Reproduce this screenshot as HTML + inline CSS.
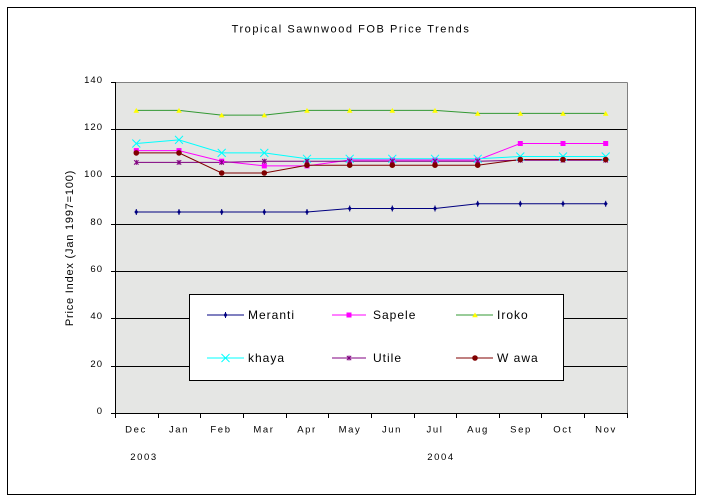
<!DOCTYPE html>
<html>
<head>
<meta charset="utf-8">
<style>
html,body{margin:0;padding:0;background:#fff;}
svg{display:block;}
text{font-family:"Liberation Sans",Arial,sans-serif;fill:#000;}
</style>
</head>
<body>
<svg width="702" height="502" viewBox="0 0 702 502" xmlns="http://www.w3.org/2000/svg">
<defs>
<g id="mMer"><polygon points="0,-2.5 2,0 0,2.5 -2,0" fill="#000080"/><line x1="0" y1="-3" x2="0" y2="3" stroke="#000080" stroke-width="1"/></g>
<g id="mSap"><rect x="-2.5" y="-2.5" width="5" height="5" fill="#ff00ff"/></g>
<g id="mIro"><polygon points="0,-2.5 2.8,2.3 -2.8,2.3" fill="#ffff00"/></g>
<g id="mKha"><line x1="-4" y1="-4" x2="4" y2="4" stroke="#00ffff" stroke-width="1"/><line x1="-4" y1="4" x2="4" y2="-4" stroke="#00ffff" stroke-width="1"/></g>
<g id="mUti"><line x1="-2.2" y1="-2.2" x2="2.2" y2="2.2" stroke="#800080" stroke-width="1"/><line x1="-2.2" y1="2.2" x2="2.2" y2="-2.2" stroke="#800080" stroke-width="1"/><line x1="0" y1="-2.5" x2="0" y2="2.5" stroke="#800080" stroke-width="1"/></g>
<g id="mWaw"><circle cx="0" cy="0" r="2.8" fill="#800000"/></g>
</defs>

<rect x="7.5" y="7.5" width="688" height="487" fill="#fff" stroke="#000" stroke-width="1"/>

<text x="351" y="32.5" font-size="11" letter-spacing="1.55" text-anchor="middle">Tropical Sawnwood FOB Price Trends</text>

<rect x="115" y="82" width="512" height="331" fill="#e5e6e4"/>
<g stroke="#000" stroke-width="1" shape-rendering="crispEdges">
<line x1="115" y1="366.5" x2="627" y2="366.5"/>
<line x1="115" y1="318.5" x2="627" y2="318.5"/>
<line x1="115" y1="271.5" x2="627" y2="271.5"/>
<line x1="115" y1="224.5" x2="627" y2="224.5"/>
<line x1="115" y1="176.5" x2="627" y2="176.5"/>
<line x1="115" y1="129.5" x2="627" y2="129.5"/>
</g>
<g stroke="#808080" stroke-width="1" shape-rendering="crispEdges">
<line x1="115" y1="82.5" x2="627.5" y2="82.5"/>
<line x1="627.5" y1="82.5" x2="627.5" y2="413"/>
</g>
<g stroke="#000" stroke-width="1" shape-rendering="crispEdges">
<line x1="115.5" y1="82" x2="115.5" y2="413.5"/>
<line x1="115" y1="413.5" x2="628" y2="413.5"/>
<line x1="111" y1="82.5" x2="115" y2="82.5"/>
<line x1="111" y1="129.5" x2="115" y2="129.5"/>
<line x1="111" y1="176.5" x2="115" y2="176.5"/>
<line x1="111" y1="224.5" x2="115" y2="224.5"/>
<line x1="111" y1="271.5" x2="115" y2="271.5"/>
<line x1="111" y1="318.5" x2="115" y2="318.5"/>
<line x1="111" y1="366.5" x2="115" y2="366.5"/>
<line x1="111" y1="413.5" x2="115" y2="413.5"/>
<line x1="115.5" y1="413" x2="115.5" y2="418"/>
<line x1="158.5" y1="413" x2="158.5" y2="418"/>
<line x1="200.5" y1="413" x2="200.5" y2="418"/>
<line x1="243.5" y1="413" x2="243.5" y2="418"/>
<line x1="286.5" y1="413" x2="286.5" y2="418"/>
<line x1="328.5" y1="413" x2="328.5" y2="418"/>
<line x1="371.5" y1="413" x2="371.5" y2="418"/>
<line x1="414.5" y1="413" x2="414.5" y2="418"/>
<line x1="456.5" y1="413" x2="456.5" y2="418"/>
<line x1="499.5" y1="413" x2="499.5" y2="418"/>
<line x1="541.5" y1="413" x2="541.5" y2="418"/>
<line x1="584.5" y1="413" x2="584.5" y2="418"/>
<line x1="627.5" y1="413" x2="627.5" y2="418"/>
</g>

<g font-size="9.5" letter-spacing="1" text-anchor="end">
<text x="103" y="83">140</text>
<text x="103" y="130">120</text>
<text x="103" y="177">100</text>
<text x="103" y="225">80</text>
<text x="103" y="272">60</text>
<text x="103" y="319">40</text>
<text x="103" y="367">20</text>
<text x="103" y="414">0</text>
</g>

<text transform="translate(73,248) rotate(-90)" font-size="11" letter-spacing="0.8" text-anchor="middle">Price Index (Jan 1997=100)</text>

<g font-size="9.5" letter-spacing="1.6" text-anchor="middle">
<text x="136" y="432.5">Dec</text>
<text x="179" y="432.5">Jan</text>
<text x="221" y="432.5">Feb</text>
<text x="264" y="432.5">Mar</text>
<text x="307" y="432.5">Apr</text>
<text x="350" y="432.5">May</text>
<text x="392" y="432.5">Jun</text>
<text x="435" y="432.5">Jul</text>
<text x="478" y="432.5">Aug</text>
<text x="521" y="432.5">Sep</text>
<text x="563" y="432.5">Oct</text>
<text x="606" y="432.5">Nov</text>
<text x="144" y="460">2003</text>
<text x="441" y="460">2004</text>
</g>

<g fill="none" stroke-width="1">
<polyline stroke="#000080" points="136.3,212 179,212 221.7,212 264.3,212 307,212 349.7,208.5 392.3,208.5 435,208.5 477.7,203.8 520.3,203.8 563,203.8 605.7,203.8"/>
<polyline stroke="#ff00ff" points="136.3,150.6 179,150.6 221.7,161.2 264.3,165.9 307,165.9 349.7,160 392.3,160 435,160 477.7,160 520.3,143.5 563,143.5 605.7,143.5"/>
<polyline stroke="#339933" points="136.3,110.4 179,110.4 221.7,115.1 264.3,115.1 307,110.4 349.7,110.4 392.3,110.4 435,110.4 477.7,113.4 520.3,113.4 563,113.4 605.7,113.4"/>
<polyline stroke="#00ffff" points="136.3,143.5 179,139.9 221.7,152.9 264.3,152.9 307,158.8 349.7,158.8 392.3,158.8 435,158.8 477.7,158.8 520.3,156.5 563,156.5 605.7,156.5"/>
<polyline stroke="#800080" points="136.3,162.4 179,162.4 221.7,162.4 264.3,161.2 307,161.2 349.7,161.2 392.3,161.2 435,161.2 477.7,161.2 520.3,160.3 563,160.3 605.7,160.3"/>
<polyline stroke="#800000" points="136.3,152.9 179,152.9 221.7,173 264.3,173 307,165.2 349.7,165.2 392.3,165.2 435,165.2 477.7,165.2 520.3,159.5 563,159.5 605.7,159.5"/>
</g>

<g>
<use href="#mMer" x="136.3" y="212"/><use href="#mMer" x="179" y="212"/><use href="#mMer" x="221.7" y="212"/><use href="#mMer" x="264.3" y="212"/><use href="#mMer" x="307" y="212"/><use href="#mMer" x="349.7" y="208.5"/><use href="#mMer" x="392.3" y="208.5"/><use href="#mMer" x="435" y="208.5"/><use href="#mMer" x="477.7" y="203.8"/><use href="#mMer" x="520.3" y="203.8"/><use href="#mMer" x="563" y="203.8"/><use href="#mMer" x="605.7" y="203.8"/>

<use href="#mSap" x="136.3" y="150.6"/><use href="#mSap" x="179" y="150.6"/><use href="#mSap" x="221.7" y="161.2"/><use href="#mSap" x="264.3" y="165.9"/><use href="#mSap" x="307" y="165.9"/><use href="#mSap" x="349.7" y="160"/><use href="#mSap" x="392.3" y="160"/><use href="#mSap" x="435" y="160"/><use href="#mSap" x="477.7" y="160"/><use href="#mSap" x="520.3" y="143.5"/><use href="#mSap" x="563" y="143.5"/><use href="#mSap" x="605.7" y="143.5"/>

<use href="#mIro" x="136.3" y="110.4"/><use href="#mIro" x="179" y="110.4"/><use href="#mIro" x="221.7" y="115.1"/><use href="#mIro" x="264.3" y="115.1"/><use href="#mIro" x="307" y="110.4"/><use href="#mIro" x="349.7" y="110.4"/><use href="#mIro" x="392.3" y="110.4"/><use href="#mIro" x="435" y="110.4"/><use href="#mIro" x="477.7" y="113.4"/><use href="#mIro" x="520.3" y="113.4"/><use href="#mIro" x="563" y="113.4"/><use href="#mIro" x="605.7" y="113.4"/>

<use href="#mKha" x="136.3" y="143.5"/><use href="#mKha" x="179" y="139.9"/><use href="#mKha" x="221.7" y="152.9"/><use href="#mKha" x="264.3" y="152.9"/><use href="#mKha" x="307" y="158.8"/><use href="#mKha" x="349.7" y="158.8"/><use href="#mKha" x="392.3" y="158.8"/><use href="#mKha" x="435" y="158.8"/><use href="#mKha" x="477.7" y="158.8"/><use href="#mKha" x="520.3" y="156.5"/><use href="#mKha" x="563" y="156.5"/><use href="#mKha" x="605.7" y="156.5"/>

<use href="#mUti" x="136.3" y="162.4"/><use href="#mUti" x="179" y="162.4"/><use href="#mUti" x="221.7" y="162.4"/><use href="#mUti" x="264.3" y="161.2"/><use href="#mUti" x="307" y="161.2"/><use href="#mUti" x="349.7" y="161.2"/><use href="#mUti" x="392.3" y="161.2"/><use href="#mUti" x="435" y="161.2"/><use href="#mUti" x="477.7" y="161.2"/><use href="#mUti" x="520.3" y="160.3"/><use href="#mUti" x="563" y="160.3"/><use href="#mUti" x="605.7" y="160.3"/>

<use href="#mWaw" x="136.3" y="152.9"/><use href="#mWaw" x="179" y="152.9"/><use href="#mWaw" x="221.7" y="173"/><use href="#mWaw" x="264.3" y="173"/><use href="#mWaw" x="307" y="165.2"/><use href="#mWaw" x="349.7" y="165.2"/><use href="#mWaw" x="392.3" y="165.2"/><use href="#mWaw" x="435" y="165.2"/><use href="#mWaw" x="477.7" y="165.2"/><use href="#mWaw" x="520.3" y="159.5"/><use href="#mWaw" x="563" y="159.5"/><use href="#mWaw" x="605.7" y="159.5"/>
</g>

<rect x="189.5" y="294.5" width="374" height="86" fill="#fff" stroke="#000" stroke-width="1" shape-rendering="crispEdges"/>
<g stroke-width="1">
<line x1="207" y1="315" x2="244" y2="315" stroke="#000080"/>
<line x1="332" y1="315" x2="366" y2="315" stroke="#ff00ff"/>
<line x1="456" y1="315" x2="493" y2="315" stroke="#339933"/>
<line x1="207" y1="358" x2="244" y2="358" stroke="#00ffff"/>
<line x1="332" y1="358" x2="366" y2="358" stroke="#800080"/>
<line x1="456" y1="358" x2="493" y2="358" stroke="#800000"/>
</g>
<use href="#mMer" x="225.5" y="315"/>
<use href="#mSap" x="349" y="315"/>
<use href="#mIro" x="475" y="315"/>
<use href="#mKha" x="225.5" y="358"/>
<use href="#mUti" x="349" y="358"/>
<use href="#mWaw" x="475" y="358"/>
<g font-size="12" letter-spacing="1">
<text x="248" y="319">Meranti</text>
<text x="373" y="319">Sapele</text>
<text x="497" y="319">Iroko</text>
<text x="248" y="362">khaya</text>
<text x="373" y="362">Utile</text>
<text x="497" y="362">W awa</text>
</g>
</svg>
</body>
</html>
